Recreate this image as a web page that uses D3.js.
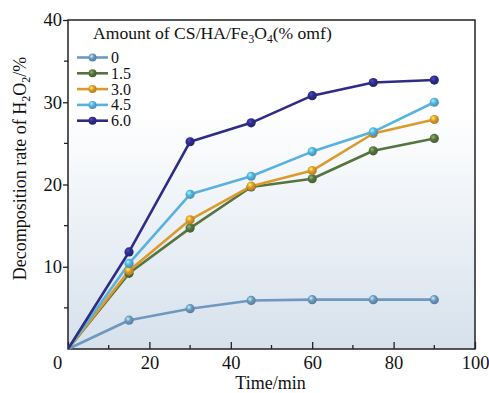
<!DOCTYPE html>
<html><head><meta charset="utf-8">
<script src="https://cdn.jsdelivr.net/npm/d3@7"></script>
<style>body{margin:0;background:#fff}svg{display:block}</style>
</head><body><div id="c"></div>
<script>
const times = [0, 15, 30, 45, 60, 75, 90];
const seriesNames = ["0", "1.5", "3.0", "4.5", "6.0"];
const colors = ["#6e98bf", "#55743f", "#dc9a2c", "#58b2de", "#2e2c86"];
const s0 = [0, 3.5, 4.9, 5.9, 6.0, 6.0, 6.0];
const s15 = [0, 9.2, 14.7, 19.7, 20.7, 24.1, 25.6];
const s30 = [0, 9.5, 15.7, 19.8, 21.7, 26.2, 27.9];
const s45 = [0, 10.4, 18.8, 21.0, 24.0, 26.4, 30.0];
const s60 = [0, 11.8, 25.2, 27.5, 30.8, 32.4, 32.7];
const values = [s0, s15, s30, s45, s60];
const xTicks = [0, 20, 40, 60, 80, 100];
const xMinor = [10, 30, 50, 70, 90];
const yTicks = [10, 20, 30, 40];
const yMinor = [5, 15, 25, 35];

const FONT = "'Liberation Serif', 'DejaVu Serif', serif";
const W = 489, H = 393;
const m = {l: 68, r: 14, t: 20, b: 44};
const svg = d3.select("#c").append("svg").attr("width", W).attr("height", H)
  .attr("font-family", FONT);
const x = d3.scaleLinear().domain([0, 100]).range([m.l, W - m.r]);
const y = d3.scaleLinear().domain([0, 40]).range([H - m.b, m.t]);

const defs = svg.append("defs");
const bg = defs.append("linearGradient").attr("id", "bg").attr("x1", 0).attr("x2", 0).attr("y1", 0).attr("y2", 1);
bg.append("stop").attr("offset", "0.28").attr("stop-color", "#ffffff");
bg.append("stop").attr("offset", "1").attr("stop-color", "#d6e1ec");
colors.forEach((c, i) => {
  const g = defs.append("radialGradient").attr("id", "ball" + i).attr("cx", "0.38").attr("cy", "0.35").attr("r", "0.65");
  g.append("stop").attr("offset", "0").attr("stop-color", d3.color(c).brighter(1.4));
  g.append("stop").attr("offset", "0.45").attr("stop-color", c);
  g.append("stop").attr("offset", "1").attr("stop-color", d3.color(c).darker(0.6));
});

svg.append("rect").attr("x", x(0)).attr("y", y(40)).attr("width", x(100) - x(0)).attr("height", y(0) - y(40)).attr("fill", "url(#bg)");

// axes
const xAxis = svg.append("g").attr("transform", `translate(0,${y(0)})`)
  .call(d3.axisBottom(x).tickValues(xTicks).tickSize(-7).tickPadding(7).tickFormat(d3.format("d")));
xAxis.attr("font-family", FONT);
xAxis.selectAll(".tick line").attr("stroke", "#222").attr("stroke-width", 1.3);
xAxis.selectAll(".tick text").attr("font-size", 18.5).attr("fill", "#111").attr("dx", d => d === 0 ? -11 : 0);
xAxis.select(".domain").remove();
svg.append("g").selectAll("line").data(xMinor).join("line")
  .attr("x1", d => x(d)).attr("x2", d => x(d)).attr("y1", y(0)).attr("y2", y(0) - 4)
  .attr("stroke", "#222").attr("stroke-width", 1.3);

const yAxis = svg.append("g").attr("transform", `translate(${x(0)},0)`)
  .call(d3.axisLeft(y).tickValues(yTicks).tickSize(5).tickPadding(1).tickFormat(d3.format("d")));
yAxis.attr("font-family", FONT);
yAxis.selectAll(".tick line").attr("stroke", "#222").attr("stroke-width", 1.3);
yAxis.selectAll(".tick text").attr("font-size", 18.5).attr("fill", "#111");
yAxis.select(".domain").remove();
svg.append("g").selectAll("line").data(yMinor).join("line")
  .attr("x1", x(0)).attr("x2", x(0) - 4).attr("y1", d => y(d)).attr("y2", d => y(d))
  .attr("stroke", "#222").attr("stroke-width", 1.3);

// frame
svg.append("rect").attr("x", x(0)).attr("y", y(40)).attr("width", x(100) - x(0)).attr("height", y(0) - y(40))
  .attr("fill", "none").attr("stroke", "#222").attr("stroke-width", 1.5);

// lines
const line = d3.line().x((d, i) => x(times[i])).y(d => y(d));
values.forEach((vals, i) => {
  svg.append("path").datum(vals).attr("d", line).attr("fill", "none")
    .attr("stroke", colors[i]).attr("stroke-width", 2.6).attr("stroke-linejoin", "round");
});
values.forEach((vals, i) => {
  svg.append("g").selectAll("circle").data(vals.map((v, j) => [times[j], v]).filter(d => d[0] > 0)).join("circle")
    .attr("cx", d => x(d[0])).attr("cy", d => y(d[1])).attr("r", 4.6)
    .attr("fill", `url(#ball${i})`);
});

// legend
const lg = svg.append("g");
const title = lg.append("text").attr("x", 93).attr("y", 38.5).attr("font-size", 17.6).attr("fill", "#111");
title.append("tspan").text("Amount of CS/HA/Fe");
title.append("tspan").text("3").attr("font-size", 11.5).attr("dy", 4);
title.append("tspan").text("O").attr("dy", -4);
title.append("tspan").text("4").attr("font-size", 11.5).attr("dy", 4);
title.append("tspan").text("(% omf)").attr("dy", -4);
seriesNames.forEach((n, i) => {
  const yy = 57.5 + i * 15.8;
  lg.append("line").attr("x1", 77).attr("x2", 108).attr("y1", yy).attr("y2", yy)
    .attr("stroke", colors[i]).attr("stroke-width", 2.6);
  lg.append("circle").attr("cx", 92.5).attr("cy", yy).attr("r", 4).attr("fill", `url(#ball${i})`);
  lg.append("text").attr("x", 111).attr("y", yy + 5.5).attr("font-size", 16).attr("fill", "#111").text(n);
});

// axis titles
svg.append("text").attr("x", x(50) - 1).attr("y", 389).attr("text-anchor", "middle").attr("font-size", 18).attr("fill", "#111").text("Time/min");
const yt = svg.append("text").attr("transform", `translate(26,${(y(0) + y(40)) / 2 - 16}) rotate(-90)`)
  .attr("text-anchor", "middle").attr("font-size", 18).attr("fill", "#111");
yt.append("tspan").text("Decomposition rate of H");
yt.append("tspan").text("2").attr("font-size", 12).attr("dy", 4);
yt.append("tspan").text("O").attr("dy", -4);
yt.append("tspan").text("2").attr("font-size", 12).attr("dy", 4);
yt.append("tspan").text("/%").attr("dy", -4);
</script></body></html>
